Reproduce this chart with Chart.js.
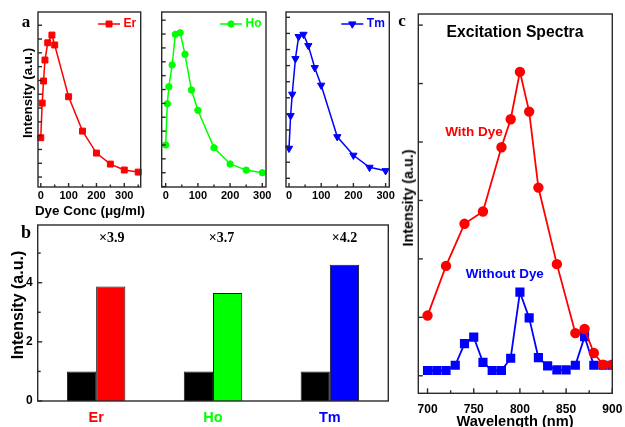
<!DOCTYPE html>
<html>
<head>
<meta charset="utf-8">
<script src="https://cdn.jsdelivr.net/npm/chart.js@4.4.1/dist/chart.umd.min.js"></script>
<style>
html,body{margin:0;padding:0;background:#fff;}
#wrap{position:relative;width:625px;height:427px;overflow:hidden;background:#fff;}
#wrap canvas{position:absolute;}
.t{position:absolute;white-space:nowrap;font-family:'Liberation Sans',Arial,sans-serif;font-weight:bold;line-height:1;transform:translate(-50%,-50%);color:#000;}
.r{transform:translate(-50%,-50%) rotate(-90deg);}
.s{font-family:'Liberation Serif','Times New Roman',serif;}
</style>
</head>
<body>
<div id="wrap">
  <canvas id="cEr" width="150" height="222" style="left:0px;top:0px;"></canvas>
  <canvas id="cHo" width="125" height="222" style="left:150px;top:0px;"></canvas>
  <canvas id="cTm" width="130" height="222" style="left:275px;top:0px;"></canvas>
  <canvas id="cBar" width="400" height="217" style="left:0px;top:210px;"></canvas>
  <canvas id="cSpec" width="240" height="427" style="left:395px;top:0px;"></canvas>

  <div class="t s" style="left:26px;top:20.5px;font-size:17px;">a</div>
  <div class="t s" style="left:26px;top:231.5px;font-size:18px;">b</div>
  <div class="t s" style="left:402px;top:20px;font-size:17px;">c</div>

  <div class="t r" style="left:27.5px;top:93px;font-size:13.3px;">Intensity (a.u.)</div>
  <div class="t" style="left:90px;top:210.7px;font-size:13.4px;">Dye Conc (μg/ml)</div>
  <div class="t r" style="left:18.3px;top:305px;font-size:16px;">Intensity (a.u.)</div>

  <div class="t" style="left:515px;top:31.7px;font-size:15.7px;">Excitation Spectra</div>
  <div class="t" style="left:474px;top:131.7px;font-size:13.5px;color:#ff0000;">With Dye</div>
  <div class="t" style="left:504.8px;top:274px;font-size:13.4px;color:#0000ff;">Without Dye</div>
  <div class="t r" style="left:408.3px;top:198px;font-size:14.3px;">Intensity (a.u.)</div>
  <div class="t" style="left:515px;top:421.3px;font-size:14.6px;">Wavelength (nm)</div>
</div>
<script>
// ---------- Panel a: emission intensity vs dye concentration ----------
const erConc = [0, 5, 10, 15, 25, 40, 50, 100, 150, 200, 250, 300, 350];
const erIntensity = [2.85, 5.36, 6.96, 8.48, 9.73, 10.29, 9.57, 5.82, 3.33, 1.74, 0.94, 0.51, 0.36];
const hoConc = [0, 5, 10, 20, 30, 45, 60, 80, 100, 150, 200, 250, 300];
const hoIntensity = [2.0, 4.97, 6.2, 7.77, 9.98, 10.09, 8.54, 5.96, 4.5, 1.8, 0.63, 0.19, 0.0];
const tmConc = [0, 5, 10, 20, 30, 45, 60, 80, 100, 150, 200, 250, 300];
const tmIntensity = [1.86, 3.89, 5.22, 7.43, 8.8, 8.94, 8.24, 6.87, 5.78, 2.58, 1.43, 0.68, 0.47];

// ---------- Panel b: enhancement bars ----------
const elements = ['Er', 'Ho', 'Tm'];
const withoutDyeBar = [1, 1, 1];
const withDyeBar = [3.87, 3.65, 4.61];
const enhancementLabels = ['×3.9', '×3.7', '×4.2'];
const barYTicks = [0, 2, 4];

// ---------- Panel c: excitation spectra ----------
const wlWithDye = [700, 720, 740, 760, 780, 790, 800, 810, 820, 840, 860, 870, 880, 890, 900];
const withDyeSpec = [1.03, 1.88, 2.60, 2.81, 3.91, 4.39, 5.20, 4.52, 3.22, 1.91, 0.73, 0.80, 0.39, 0.19, 0.19];
const wlWithoutDye = [700, 710, 720, 730, 740, 750, 760, 770, 780, 790, 800, 810, 820, 830, 840, 850, 860, 870, 880, 890, 900];
const withoutDyeSpec = [0.09, 0.09, 0.09, 0.18, 0.55, 0.66, 0.23, 0.09, 0.09, 0.30, 1.43, 0.99, 0.31, 0.17, 0.10, 0.10, 0.18, 0.67, 0.18, 0.18, 0.18];
const wlTickLabels = [700, 750, 800, 850, 900];
const concTickLabels = [0, 100, 200, 300];

const RED = '#ff0000', GREEN = '#00ff00', BLUE = '#0000ff';
const elementColors = [RED, GREEN, BLUE];

Chart.defaults.font.family = "'Liberation Sans', Arial, sans-serif";
Chart.defaults.font.weight = 'bold';
Chart.defaults.color = '#000';
Chart.defaults.animation = false;

function framePlugin(opt) {
  return {
    id: 'frame',
    afterDatasetsDraw(chart) {
      const {ctx, chartArea: a} = chart;
      ctx.save();
      ctx.strokeStyle = '#2a2a2a';
      ctx.lineWidth = 1.4;
      const tick = (scale, horiz, o) => {
        scale.ticks.forEach(t => {
          const len = o.major(t.value) ? o.maj : o.min;
          const p = scale.getPixelForValue(t.value);
          ctx.beginPath();
          if (horiz) { ctx.moveTo(p, a.bottom); ctx.lineTo(p, a.bottom - len); }
          else { ctx.moveTo(a.left, p); ctx.lineTo(a.left + len, p); }
          ctx.stroke();
        });
      };
      if (opt.x) tick(chart.scales.x, true, opt.x);
      if (opt.y) tick(chart.scales.y, false, opt.y);
      ctx.strokeRect(a.left, a.top, a.right - a.left, a.bottom - a.top);
      ctx.restore();
    }
  };
}

function miniLegend(label) {
  return {
    id: 'miniLegend',
    afterDraw(chart) {
      const {ctx, chartArea: a} = chart;
      const ds = chart.data.datasets[0];
      ctx.save();
      ctx.font = "bold 12px 'Liberation Sans', Arial, sans-serif";
      const w = ctx.measureText(label).width;
      const y = a.top + 12;
      const tx = a.right - 4.5 - w;
      const x2 = tx - 3.5, x1 = x2 - 22;
      ctx.strokeStyle = ds.borderColor;
      ctx.lineWidth = ds.borderWidth;
      ctx.beginPath(); ctx.moveTo(x1, y); ctx.lineTo(x2, y); ctx.stroke();
      ctx.fillStyle = ds.pointBackgroundColor;
      ctx.lineWidth = 1;
      if (Chart.helpers && Chart.helpers.drawPoint) {
        Chart.helpers.drawPoint(ctx, {pointStyle: ds.pointStyle, radius: ds.pointRadius, rotation: ds.pointRotation || 0, borderWidth: 1}, (x1 + x2) / 2, y);
      } else {
        ctx.beginPath(); ctx.arc((x1 + x2) / 2, y, ds.pointRadius, 0, Math.PI * 2); ctx.fill();
      }
      ctx.fillStyle = ds.borderColor;
      ctx.textBaseline = 'middle';
      ctx.textAlign = 'left';
      ctx.fillText(label, tx, y);
      ctx.restore();
    }
  };
}

function concChart(id, label, conc, vals, color, pt, cfg) {
  return new Chart(document.getElementById(id), {
    type: 'line',
    data: {
      datasets: [{
        label: label,
        data: conc.map((x, i) => ({x: x, y: vals[i]})),
        borderColor: color, backgroundColor: color,
        pointBackgroundColor: color, pointBorderColor: color,
        borderWidth: 1.5, pointStyle: pt.style, pointRadius: pt.r,
        pointRotation: pt.rot || 0, pointBorderWidth: 1, tension: 0, clip: false
      }]
    },
    options: {
      responsive: false, animation: false, devicePixelRatio: 1, events: [],
      layout: {padding: {top: cfg.padTop, right: cfg.padRight, left: 0, bottom: 0}},
      plugins: {legend: {display: false}, tooltip: {enabled: false}},
      scales: {
        x: {
          type: 'linear', min: cfg.xMin, max: cfg.xMax,
          grid: {display: false, drawTicks: false}, border: {display: false},
          ticks: {stepSize: 50, includeBounds: false, padding: 2, autoSkip: false, maxRotation: 0,
                  font: {size: 11, weight: 'bold'},
                  callback: v => concTickLabels.includes(v) ? String(v) : ''},
          afterFit: s => { s.height = cfg.xAxisH; }
        },
        y: {
          type: 'linear', min: cfg.yMin, max: cfg.yMax,
          grid: {display: false, drawTicks: false}, border: {display: false},
          ticks: {stepSize: 1, includeBounds: false, display: false},
          afterFit: s => { s.width = cfg.yAxisW; }
        }
      }
    },
    plugins: [
      framePlugin({x: {major: v => v % 100 === 0, maj: 4, min: 2.5}, y: {major: () => true, maj: 4, min: 4}}),
      miniLegend(label)
    ]
  });
}

concChart('cEr', 'Er', erConc, erIntensity, RED, {style: 'rect', r: 4.2},
  {padTop: 12, padRight: 9.3, xAxisH: 35, yAxisW: 38, xMin: -10, xMax: 359, yMin: -0.72, yMax: 11.96});
concChart('cHo', 'Ho', hoConc, hoIntensity, GREEN, {style: 'circle', r: 3.2},
  {padTop: 12, padRight: 9, xAxisH: 35, yAxisW: 11.7, xMin: -12.4, xMax: 311.5, yMin: -1.03, yMax: 11.59});
concChart('cTm', 'Tm', tmConc, tmIntensity, BLUE, {style: 'triangle', r: 4.2, rot: 180},
  {padTop: 12, padRight: 15.7, xAxisH: 35, yAxisW: 11, xMin: -9.3, xMax: 311.5, yMin: -0.54, yMax: 10.33});

// ---------- bar chart ----------
const enhancementPlugin = {
  id: 'enh',
  afterDatasetsDraw(chart) {
    const {ctx} = chart;
    const meta = chart.getDatasetMeta(1);
    const yPix = chart.scales.y.getPixelForValue(5.5);
    ctx.save();
    ctx.font = "bold 14px 'Liberation Serif', 'Times New Roman', serif";
    ctx.fillStyle = '#000';
    ctx.textAlign = 'center';
    ctx.textBaseline = 'middle';
    const dx = [1, -6, 0];
    meta.data.forEach((bar, i) => ctx.fillText(enhancementLabels[i], bar.x + dx[i], yPix));
    ctx.restore();
  }
};

new Chart(document.getElementById('cBar'), {
  type: 'bar',
  data: {
    labels: elements,
    datasets: [
      {label: 'Without Dye', data: withoutDyeBar, backgroundColor: '#000', borderColor: '#1a1a1a', borderWidth: 1,
       categoryPercentage: 0.5, barPercentage: 1},
      {label: 'With Dye', data: withDyeBar, backgroundColor: elementColors, borderColor: '#1a1a1a', borderWidth: 1,
       categoryPercentage: 0.5, barPercentage: 1}
    ]
  },
  options: {
    responsive: false, animation: false, devicePixelRatio: 1, events: [],
    layout: {padding: {top: 15, right: 11.7, left: 0, bottom: 0}},
    plugins: {legend: {display: false}, tooltip: {enabled: false}},
    scales: {
      x: {
        grid: {display: false, drawTicks: false}, border: {display: false},
        ticks: {padding: 8.6, font: {size: 14.5, weight: 'bold'}, color: c => elementColors[c.index]},
        afterFit: s => { s.height = 26; }
      },
      y: {
        min: 0, max: 5.95,
        grid: {display: false, drawTicks: false}, border: {display: false},
        ticks: {stepSize: 1, includeBounds: false, padding: 5, font: {size: 12, weight: 'bold'},
                callback: v => barYTicks.includes(v) ? String(v) : ''},
        afterFit: s => { s.width = 37.7; }
      }
    }
  },
  plugins: [framePlugin({y: {major: v => v % 2 === 0, maj: 4.5, min: 3}}), enhancementPlugin]
});

// ---------- spectra ----------
new Chart(document.getElementById('cSpec'), {
  type: 'line',
  data: {
    datasets: [
      {label: 'With Dye', data: wlWithDye.map((x, i) => ({x: x, y: withDyeSpec[i]})),
       borderColor: RED, backgroundColor: RED, pointBackgroundColor: RED, pointBorderColor: RED,
       pointStyle: 'circle', pointRadius: 4.3, borderWidth: 1.8, tension: 0},
      {label: 'Without Dye', data: wlWithoutDye.map((x, i) => ({x: x, y: withoutDyeSpec[i]})),
       borderColor: BLUE, backgroundColor: BLUE, pointBackgroundColor: BLUE, pointBorderColor: BLUE,
       pointStyle: 'rect', pointRadius: 5.2, borderWidth: 1.8, tension: 0}
    ]
  },
  options: {
    responsive: false, animation: false, devicePixelRatio: 1, events: [],
    layout: {padding: {top: 14, right: 22.7, left: 0, bottom: 0}},
    plugins: {legend: {display: false}, tooltip: {enabled: false}},
    scales: {
      x: {
        type: 'linear', min: 690, max: 900,
        grid: {display: false, drawTicks: false}, border: {display: false},
        ticks: {stepSize: 25, includeBounds: false, padding: 9, autoSkip: false, maxRotation: 0,
                font: {size: 12, weight: 'bold'},
                callback: v => wlTickLabels.includes(v) ? String(v) : ''},
        afterFit: s => { s.height = 33.7; }
      },
      y: {
        type: 'linear', min: -0.30, max: 6.19,
        grid: {display: false, drawTicks: false}, border: {display: false},
        ticks: {stepSize: 1, includeBounds: false, display: false},
        afterFit: s => { s.width = 23.3; }
      }
    }
  },
  plugins: [framePlugin({x: {major: v => v % 50 === 0, maj: 5, min: 3}, y: {major: () => true, maj: 4.5, min: 4.5}})]
});
</script>
</body>
</html>
